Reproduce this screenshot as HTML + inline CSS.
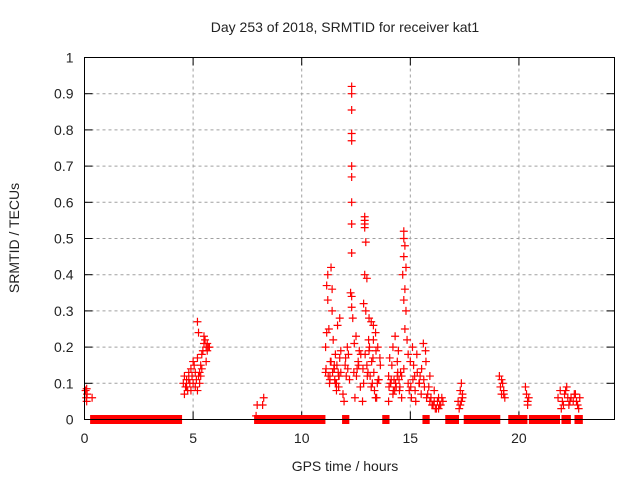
<!DOCTYPE html>
<html><head><meta charset="utf-8"><style>
body{margin:0;background:#fff;}
svg text{font-family:"Liberation Sans",sans-serif;font-size:14px;fill:#222;}
</style></head><body>
<svg id="chart" width="640" height="480" xmlns="http://www.w3.org/2000/svg">
<rect width="640" height="480" fill="#fff"/>
<text x="345" y="32" text-anchor="middle">Day 253 of 2018, SRMTID for receiver kat1</text>
<text x="345" y="471" text-anchor="middle">GPS time / hours</text>
<text transform="translate(19,238) rotate(-90)" text-anchor="middle">SRMTID / TECUs</text>
<g id="grid"></g><g id="ticks"></g><g id="marks"></g>
<rect x="84.5" y="57.5" width="530" height="362" fill="none" stroke="#000"/>
</svg>
<script>
const xTicks=[0,5,10,15,20];
const yTicks=[0,0.1,0.2,0.3,0.4,0.5,0.6,0.7,0.8,0.9,1];
const yTickLabels=["0","0.1","0.2","0.3","0.4","0.5","0.6","0.7","0.8","0.9","1"];
const zeroRuns=[[0.35,4.4],[7.9,11.0],[11.95,12.1],[13.8,13.95],[15.65,15.8],[16.7,17.15],[17.55,19.05],[19.6,20.3],[20.55,21.8],[22.05,22.3],[22.65,22.85]];
const times=[0.05,0.1,0.08,0.12,0.35,0.1,
4.55,4.6,4.65,4.7,4.75,4.8,4.85,4.9,4.95,5.0,5.05,5.1,5.15,5.2,5.25,5.3,5.35,5.4,5.45,5.5,5.55,5.6,5.65,5.7,4.6,4.7,4.8,4.9,5.0,5.1,5.2,5.3,5.4,5.5,5.2,5.25,5.35,5.6,5.65,5.75,
7.95,8.2,8.25,7.9,
11.1,11.15,11.2,11.25,11.3,11.35,11.4,11.45,11.5,11.55,11.6,11.65,11.7,11.75,11.8,11.1,11.2,11.3,11.4,11.5,11.6,11.7,11.8,11.15,11.35,11.55,11.75,11.9,12.0,12.1,12.2,12.4,12.5,12.6,12.7,11.95,12.05,12.15,12.45,12.55,12.65,
11.12,11.22,11.32,11.42,11.52,11.62,11.72,11.28,11.48,11.68,12.02,12.12,12.42,12.52,12.62,12.72,
12.3,12.3,12.3,12.3,12.3,12.3,12.3,12.3,12.3,12.3,12.3,12.3,12.25,12.35,
12.9,12.9,12.9,12.9,12.95,12.9,13.0,12.85,12.95,13.1,13.2,13.3,13.4,13.5,13.6,13.0,13.15,13.25,13.35,13.45,12.8,12.85,13.05,13.2,13.4,13.55,13.3,13.1,
12.82,12.92,13.02,13.12,13.22,13.32,13.42,13.52,13.62,13.08,13.28,13.48,
14.0,14.1,14.2,14.3,14.4,14.5,14.55,14.6,14.0,14.15,14.25,14.35,14.45,14.05,14.2,14.4,
14.02,14.12,14.22,14.32,14.42,14.52,14.08,14.28,14.48,
14.7,14.7,14.75,14.7,14.65,14.8,14.75,14.7,14.8,14.75,14.85,14.9,14.7,14.6,14.9,15.0,15.1,15.2,14.95,15.05,15.15,15.3,15.4,15.5,15.6,15.7,15.25,15.45,15.65,15.75,
15.02,15.12,15.22,15.32,15.42,15.52,15.62,15.72,
15.8,15.9,16.0,16.1,16.2,16.3,16.4,16.5,15.85,15.95,16.05,16.15,16.25,16.35,16.45,15.9,16.1,16.3,
17.2,17.3,17.35,17.4,17.25,17.3,17.4,17.35,
19.1,19.15,19.2,19.25,19.3,19.35,19.2,19.3,
20.3,20.35,20.4,20.45,20.4,
21.8,21.9,22.0,22.1,22.2,22.3,22.4,22.5,22.6,22.7,22.8,21.95,22.15,22.35,22.55,22.75,22.05,22.25,22.65];
const values=[0.08,0.085,0.06,0.07,0.06,0.05,
0.1,0.12,0.09,0.11,0.08,0.13,0.1,0.14,0.12,0.1,0.15,0.13,0.11,0.17,0.12,0.1,0.15,0.14,0.19,0.21,0.22,0.2,0.19,0.2,0.07,0.09,0.11,0.08,0.16,0.09,0.08,0.13,0.18,0.23,0.27,0.24,0.12,0.16,0.21,0.2,
0.04,0.04,0.06,0.01,
0.13,0.37,0.4,0.25,0.12,0.42,0.3,0.22,0.14,0.18,0.1,0.26,0.09,0.17,0.13,0.2,0.33,0.11,0.36,0.15,0.08,0.12,0.19,0.24,0.16,0.1,0.28,0.07,0.15,0.2,0.11,0.13,0.23,0.16,0.09,0.05,0.12,0.18,0.06,0.14,0.19,
0.14,0.12,0.16,0.13,0.11,0.15,0.12,0.1,0.14,0.13,0.17,0.14,0.21,0.12,0.15,0.18,
0.92,0.9,0.855,0.79,0.77,0.7,0.67,0.6,0.54,0.46,0.34,0.31,0.35,0.28,
0.56,0.55,0.54,0.53,0.49,0.4,0.39,0.32,0.3,0.28,0.27,0.26,0.24,0.2,0.17,0.15,0.12,0.1,0.08,0.06,0.05,0.1,0.13,0.09,0.06,0.11,0.22,0.19,
0.14,0.18,0.12,0.2,0.16,0.13,0.19,0.11,0.15,0.22,0.17,0.1,
0.12,0.1,0.2,0.23,0.16,0.08,0.13,0.06,0.05,0.15,0.11,0.09,0.19,0.17,0.07,0.12,
0.09,0.11,0.08,0.1,0.13,0.09,0.1,0.08,0.11,
0.52,0.5,0.48,0.45,0.4,0.42,0.36,0.33,0.3,0.25,0.22,0.18,0.14,0.12,0.1,0.16,0.2,0.12,0.08,0.06,0.15,0.18,0.1,0.07,0.21,0.19,0.05,0.12,0.09,0.06,
0.09,0.11,0.08,0.13,0.1,0.14,0.11,0.16,
0.07,0.05,0.04,0.05,0.03,0.06,0.04,0.05,0.09,0.06,0.04,0.03,0.05,0.04,0.06,0.12,0.08,0.03,
0.05,0.08,0.1,0.06,0.03,0.04,0.07,0.05,
0.12,0.09,0.07,0.1,0.08,0.06,0.11,0.07,
0.09,0.07,0.05,0.06,0.04,
0.06,0.08,0.05,0.07,0.09,0.04,0.06,0.05,0.07,0.04,0.06,0.03,0.08,0.05,0.07,0.03,0.04,0.06,0.05];
const NS="http://www.w3.org/2000/svg";
const X0=84.5,X1=614.5,Y0=419.5,Y1=57.5,XMAX=24.4;
function sx(v){return X0+(v/XMAX)*(X1-X0);}
function sy(v){return Y0-v*(Y0-Y1);}
const grid=document.getElementById('grid'),ticks=document.getElementById('ticks'),marks=document.getElementById('marks');
function mk(p,tag,a){const e=document.createElementNS(NS,tag);for(const k in a)e.setAttribute(k,a[k]);p.appendChild(e);return e;}
yTicks.forEach((v,i)=>{const y=sy(v);
 if(i>0&&i<yTicks.length-1){const g=mk(grid,'line',{x1:X0,x2:X1,y1:y,y2:y,stroke:'#a0a0a0','stroke-dasharray':'3,3'});
 
 }
 mk(ticks,'line',{x1:X0,x2:X0+8,y1:y,y2:y,stroke:'#000'});mk(ticks,'line',{x1:X1,x2:X1-8,y1:y,y2:y,stroke:'#000'});
 const t=mk(ticks,'text',{x:X0-11,y:y+5,'text-anchor':'end'});t.textContent=yTickLabels[i];
 
 });
xTicks.forEach(v=>{const x=sx(v);
 if(v>0){const g=mk(grid,'line',{x1:x,x2:x,y1:Y0,y2:Y1,stroke:'#a0a0a0','stroke-dasharray':'3,3'});
 
 }
 mk(ticks,'line',{x1:x,x2:x,y1:Y0,y2:Y0-8,stroke:'#000'});mk(ticks,'line',{x1:x,x2:x,y1:Y1,y2:Y1+8,stroke:'#000'});
 const t=mk(ticks,'text',{x:x,y:443,'text-anchor':'middle'});t.textContent=String(v);
 
 });
function plus(t,v){const x=sx(t),y=sy(v);
 const p=mk(marks,'path',{d:`M${x-4},${y}H${x+4}M${x},${y-4}V${y+4}`,stroke:'#f00','stroke-width':1.2,fill:'none'});
 
 }
zeroRuns.forEach(r=>{const b=mk(marks,'rect',{x:sx(r[0])-2,y:sy(0)-4.5,width:sx(r[1])-sx(r[0])+4,height:9,fill:'#f00'});
 
 });
times.forEach((t,i)=>plus(t,values[i]));
</script>
</body></html>
